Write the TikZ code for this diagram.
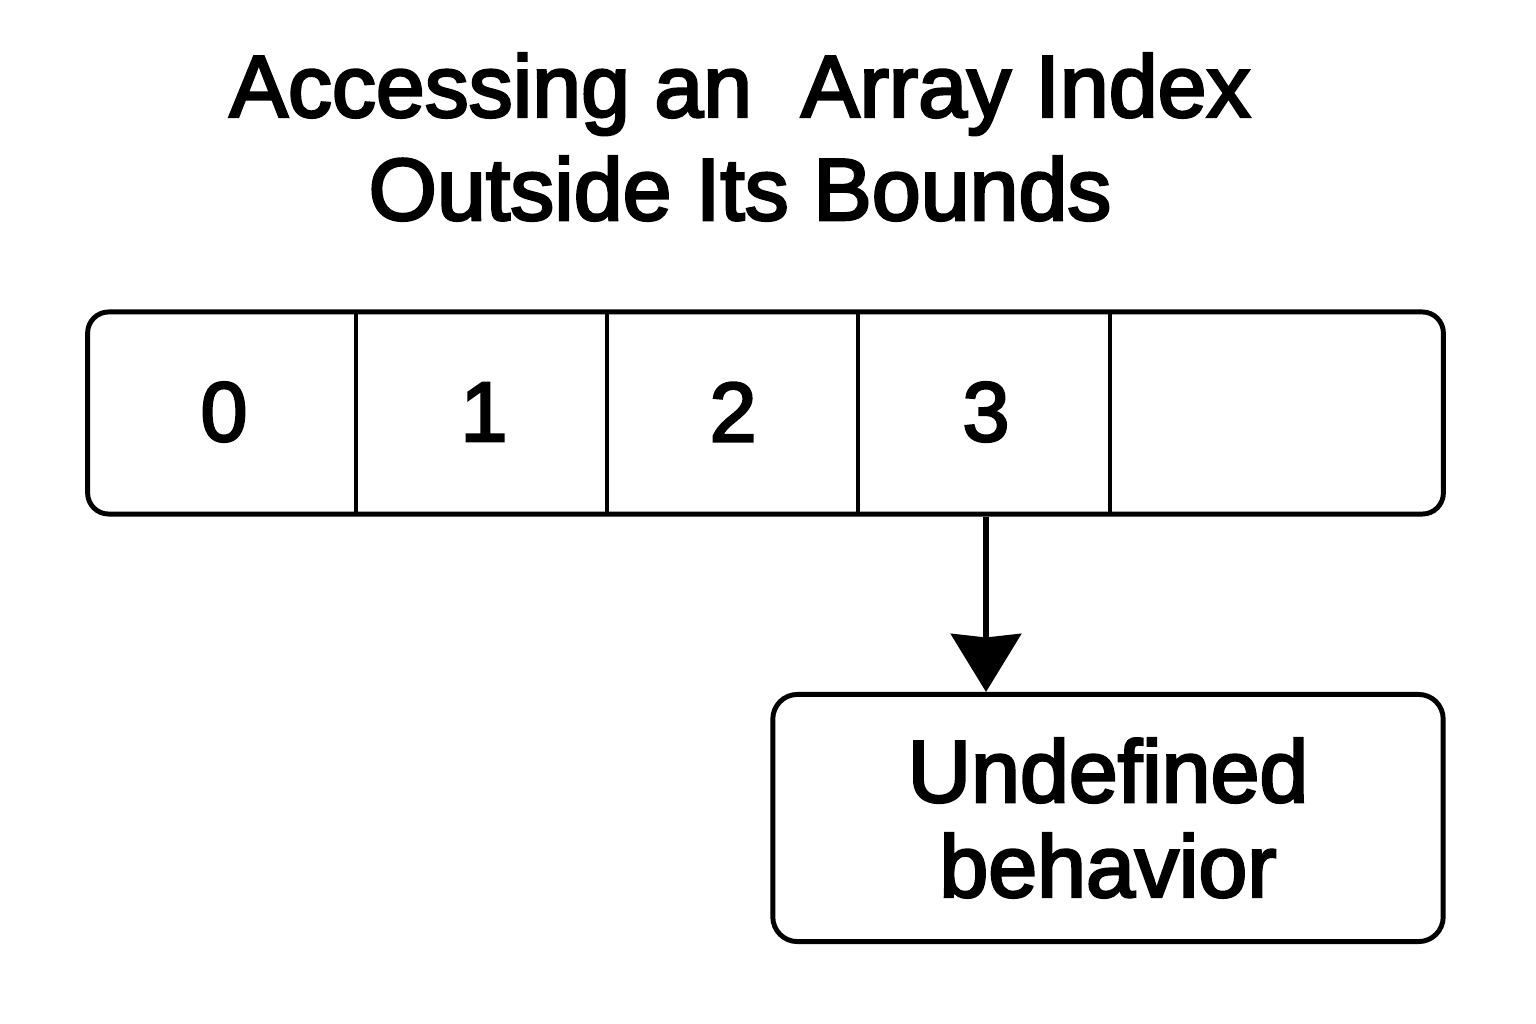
\documentclass[tikz,border=0pt]{standalone}
\usepackage{fontspec}
\setmainfont[FakeBold=3]{Liberation Sans}
\usetikzlibrary{arrows.meta,positioning}

\begin{document}
\begin{tikzpicture}[x=0.01cm,y=-0.01cm,line width=1.4pt,
  box/.style={draw,rounded corners=6pt,inner sep=0pt},
  cell/.style={font=\fontsize{24}{29}\selectfont}]

  \useasboundingbox (0,0) rectangle (1536,1024);

  \node[align=center,font=\fontsize{25}{29.3}\selectfont] (title) at (740,137)
    {Accessing an\ \ Array Index\\Outside Its Bounds};

  % the array with its cells
  \node[box,minimum width=13.55cm,minimum height=2.02cm] (arr) at (765.5,413) {};
  \foreach \x in {356,607,858,1110}
    \draw (\x,312) -- (\x,514);

  \node[cell] (i0) at (224,412) {0};
  \node[cell] (i1) at (484,412) {1};
  \node[cell] (i2) at (733,412) {2};
  \node[cell] (i3) at (986,412) {3};

  \node[box,rounded corners=7pt,minimum width=6.7cm,minimum height=2.47cm,
    align=center,font=\fontsize{25}{27}\selectfont] (ub) at (1108,818)
    {Undefined\\behavior};

  \draw[-{Stealth[length=0.58cm,width=0.7cm,inset=1pt]},line width=1.8pt]
    (arr.south -| i3) -- (ub.north -| i3);

\end{tikzpicture}
\end{document}
